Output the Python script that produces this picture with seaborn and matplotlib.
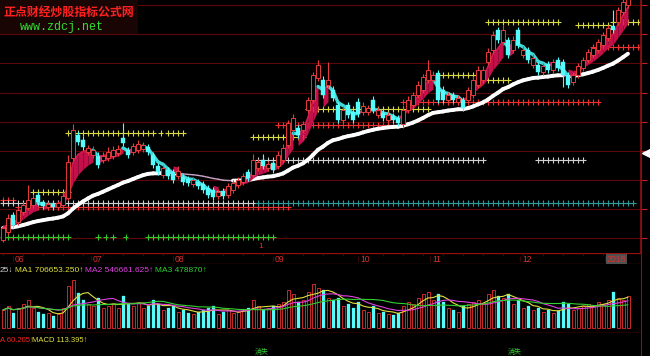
import numpy as np
import pandas as pd
import matplotlib
matplotlib.use("Agg")
import matplotlib.pyplot as plt
import seaborn as sns
from matplotlib.patches import Rectangle

# daily candles (price units, one per trading day)
opens = [1.0, 1.8, 3.5, 2.8, 3.8, 4.2, 4.5, 5.5, 4.8, 4.3,
         4.6, 4.3, 4.5, 5.2, 9.2, 11.5, 11.0, 9.8, 9.5, 9.4,
         9.0, 9.2, 9.4, 9.7, 11.2, 10.0, 9.8, 10.0, 10.1, 10.3,
         9.5, 8.4, 7.5, 8.0, 7.8, 7.4, 7.3, 7.1, 6.6, 6.8,
         6.6, 6.2, 6.0, 5.4, 5.9, 5.5, 6.0, 6.5, 6.8, 7.8,
         7.5, 8.2, 9.0, 8.2, 8.7, 8.4, 9.0, 10.5, 12.0, 12.2,
         12.0, 14.0, 15.0, 17.2, 17.0, 16.5, 16.0, 14.5, 13.0, 14.5,
         13.8, 14.8, 13.8, 13.8, 15.0, 13.5, 13.7, 13.0, 13.4, 13.2,
         12.6, 14.0, 14.5, 15.5, 16.0, 17.0, 17.0, 17.7, 16.0, 15.0,
         15.5, 14.8, 15.0, 15.0, 15.5, 16.5, 17.0, 18.8, 20.0, 22.0,
         20.8, 21.0, 20.0, 22.0, 19.5, 20.0, 18.5, 18.5, 17.8, 18.6,
         18.0, 19.0, 18.8, 17.5, 16.8, 17.5, 18.2, 19.0, 19.5, 20.0,
         20.5, 21.2, 22.4, 22.8, 23.8, 24.5]
closes = [2.2, 3.2, 2.5, 4.0, 4.5, 5.0, 5.2, 4.8, 4.4, 4.6,
          4.3, 4.7, 5.4, 8.8, 12.0, 10.8, 10.3, 10.2, 10.0, 8.5,
          9.4, 9.8, 10.0, 10.1, 10.7, 9.5, 10.4, 10.6, 10.5, 9.8,
          8.5, 7.8, 8.2, 7.4, 7.0, 7.9, 6.8, 6.7, 7.0, 6.4,
          6.0, 5.5, 5.3, 5.8, 5.4, 6.4, 6.7, 7.0, 7.4, 7.2,
          9.0, 8.8, 8.4, 8.6, 8.0, 9.5, 10.2, 12.7, 13.2, 11.5,
          12.6, 15.0, 17.5, 18.5, 15.5, 17.0, 15.2, 13.0, 14.0, 13.5,
          13.0, 13.6, 14.4, 14.2, 14.0, 14.0, 13.2, 13.5, 13.0, 12.7,
          14.0, 15.0, 15.5, 16.5, 17.3, 18.0, 17.5, 15.0, 15.0, 15.5,
          15.0, 15.2, 14.2, 16.0, 17.0, 18.0, 18.0, 19.8, 21.5, 21.0,
          22.0, 19.5, 21.0, 20.5, 20.0, 19.0, 19.2, 17.8, 18.4, 18.0,
          18.8, 18.2, 17.5, 16.5, 17.5, 18.4, 19.0, 19.8, 20.2, 20.8,
          21.5, 22.2, 22.0, 24.0, 24.8, 25.5]
highs = [2.5, 3.6, 3.8, 4.3, 4.8, 6.5, 5.5, 5.8, 5.0, 4.8,
         4.9, 4.9, 5.8, 9.5, 12.6, 11.9, 11.4, 10.5, 10.4, 9.8,
         9.8, 10.3, 10.4, 10.5, 12.7, 10.3, 10.7, 11.0, 10.8, 10.6,
         9.8, 8.7, 8.5, 8.3, 8.1, 8.4, 7.6, 7.4, 7.3, 7.1,
         6.9, 6.5, 6.3, 6.1, 6.2, 6.7, 7.0, 7.3, 7.7, 8.1,
         9.6, 9.1, 9.6, 8.9, 9.0, 9.9, 10.6, 13.0, 13.6, 12.5,
         12.9, 15.3, 17.8, 19.0, 17.4, 18.8, 16.4, 14.8, 14.4, 14.8,
         14.1, 15.2, 14.8, 14.5, 15.4, 14.3, 14.0, 13.8, 13.7, 13.5,
         14.3, 15.4, 15.8, 16.9, 17.6, 19.0, 17.9, 18.0, 16.4, 15.8,
         15.8, 15.5, 15.3, 16.3, 17.4, 18.4, 18.4, 20.2, 21.9, 22.3,
         22.5, 21.3, 21.4, 22.3, 20.4, 20.3, 19.6, 18.8, 18.7, 18.9,
         19.1, 19.3, 19.1, 17.8, 17.8, 18.7, 19.3, 20.1, 20.5, 21.1,
         21.8, 22.5, 24.0, 24.3, 25.2, 26.0]
lows = [0.8, 1.5, 2.2, 2.5, 3.5, 4.0, 4.2, 4.5, 4.1, 4.0,
        4.0, 4.0, 4.2, 5.0, 8.9, 10.5, 10.0, 9.5, 9.2, 8.2,
        8.7, 8.9, 9.1, 9.4, 10.4, 9.2, 9.5, 9.7, 9.8, 9.5,
        8.2, 7.5, 7.2, 7.1, 6.7, 7.1, 6.5, 6.4, 6.3, 6.1,
        5.7, 5.2, 5.0, 5.1, 5.1, 5.2, 5.7, 6.2, 6.5, 6.9,
        7.2, 7.9, 8.1, 7.9, 7.7, 8.1, 8.7, 10.2, 11.7, 11.2,
        11.7, 13.7, 14.7, 16.9, 15.2, 16.2, 14.9, 12.7, 12.7, 13.2,
        12.7, 13.3, 13.5, 13.5, 13.7, 13.2, 12.9, 12.7, 12.7, 12.4,
        12.3, 13.7, 14.2, 15.2, 15.7, 16.7, 16.7, 14.7, 14.7, 14.7,
        14.7, 14.5, 13.9, 14.7, 15.2, 16.2, 16.7, 18.5, 19.7, 20.7,
        20.5, 19.2, 19.7, 20.2, 19.2, 18.7, 18.2, 17.5, 17.5, 17.7,
        17.7, 17.9, 16.3, 16.2, 16.5, 17.2, 17.9, 18.7, 19.2, 19.7,
        20.2, 20.9, 21.7, 22.5, 23.5, 24.2]
# volume in 10k lots
volumes = [36, 44, 30, 40, 48, 56, 40, 32, 28, 30,
           24, 28, 40, 84, 96, 70, 56, 48, 44, 60,
           40, 44, 50, 40, 64, 48, 44, 52, 40, 44,
           56, 48, 36, 40, 44, 32, 36, 30, 28, 32,
           36, 40, 44, 28, 32, 36, 30, 32, 36, 40,
           56, 44, 36, 40, 44, 48, 52, 76, 68, 52,
           56, 72, 88, 80, 76, 60, 56, 60, 44, 48,
           40, 52, 36, 32, 44, 30, 32, 28, 26, 30,
           44, 52, 48, 60, 68, 72, 56, 68, 52, 40,
           36, 32, 44, 48, 52, 56, 48, 68, 76, 64,
           60, 68, 48, 56, 40, 44, 36, 40, 32, 36,
           30, 34, 52, 48, 36, 40, 44, 48, 44, 52,
           48, 56, 72, 60, 56, 64]

month_labels = ["06", "07", "08", "09", "10", "11", "12", "2018"]
month_pos = [2.4, 18.0, 34.4, 54.4, 71.4, 85.8, 103.8, 120.8]
grid_levels = [24.5, 21.6, 18.7, 15.7, 12.8, 9.9, 7.0, 4.1, 1.2]

# support / resistance "+" lines: (first day, last day, price, colour)
level_segments = [
    (13, 30, 11.7, "yellow"), (6, 13, 5.8, "yellow"), (50, 60, 11.3, "yellow"),
    (61, 85, 14.1, "yellow"), (85, 95, 17.5, "yellow"), (95, 101, 17.0, "yellow"),
    (97, 111, 22.8, "yellow"), (115, 121, 22.5, "yellow"), (122, 127, 22.8, "yellow"),
    (0, 2, 5.0, "red"), (3, 57, 4.3, "red"), (55, 80, 12.5, "red"),
    (80, 119, 14.8, "red"), (118, 127, 20.3, "red"),
    (0, 50, 4.7, "white"), (51, 96, 9.0, "white"), (107, 116, 9.0, "white"),
    (51, 126, 4.7, "teal"),
    (0, 13, 1.3, "green"), (29, 54, 1.3, "green"),
]
green_extra = [19, 20.5, 22, 24.5]
yellow_extra = [31.5, 33, 34, 35, 36]

level_palette = {"yellow": "#d8d840", "red": "#f03030", "white": "#d0d0d0",
                 "teal": "#2a9c9c", "green": "#30c830"}
UP = "#e83a3a"
DOWN = "#54fcfc"

sns.set_theme(style="dark", rc={"axes.facecolor": "black", "figure.facecolor": "black",
                                "axes.edgecolor": "black", "axes.grid": False})
plt.rcParams['font.family'] = ['Liberation Sans', 'Noto Sans CJK SC', 'DejaVu Sans']

df = pd.DataFrame({"open": opens, "close": closes, "high": highs, "low": lows, "vol": volumes})
df["idx"] = np.arange(len(df))
df["up"] = df["close"] >= df["open"]
fast = df["close"].ewm(span=4, adjust=False).mean().values
slow = df["close"].ewm(span=9, adjust=False).mean().values
long_ma = df["close"].ewm(span=34, adjust=False).mean().values
xs = df["idx"].values

fig = plt.figure(figsize=(6.5, 3.56), dpi=100)
ax = fig.add_axes([0, 103 / 356, 641 / 650, 253 / 356])
ax_d = fig.add_axes([0, 92 / 356, 641 / 650, 11 / 356])
ax_v = fig.add_axes([0, 23 / 356, 641 / 650, 57 / 356])
for a in (ax, ax_d, ax_v):
    a.set_facecolor("black")
    a.set_xlim(-0.6, 127.6)
    for s in a.spines.values():
        s.set_visible(False)
    a.set_xticks([])

# main price panel
ax.set_ylim(-0.3, 25.0)
for lvl in grid_levels:
    ax.axhline(lvl, color="#5c0808", lw=0.8, zorder=0)

rows = []
for start, end, level, colour in level_segments:
    for k in np.arange(start, end + 1):
        rows.append((k, level, colour))
rows += [(k, 1.3, "green") for k in green_extra]
rows += [(k, 11.7, "yellow") for k in yellow_extra]
levels_df = pd.DataFrame(rows, columns=["x", "y", "colour"])
sns.scatterplot(data=levels_df, x="x", y="y", hue="colour", palette=level_palette,
                marker="+", s=13, linewidth=0.8, legend=False, ax=ax, zorder=2)

# long average: white while rising, lilac while falling
for i in range(len(xs) - 1):
    rising = long_ma[i + 1] >= long_ma[i]
    ax.plot(xs[i:i + 2], long_ma[i:i + 2], color="white" if rising else "#c8a2c8",
            lw=2.8 if rising else 1.0, solid_capstyle="round", zorder=3)

# short trend band: crimson ribbon while rising, cyan line while falling
for i in range(len(xs) - 1):
    if fast[i + 1] >= fast[i]:
        ax.fill_between(xs[i:i + 2], fast[i:i + 2], slow[i:i + 2], color="#c4104a",
                        lw=0, zorder=3)
        ax.plot(xs[i:i + 2], fast[i:i + 2], color="#d0184e", lw=1.4, zorder=3)
    else:
        ax.plot(xs[i:i + 2], fast[i:i + 2], color="#40d8d8", lw=2.4,
                solid_capstyle="round", zorder=3)

colors = np.where(df["up"], UP, DOWN)
ax.vlines(xs, df["low"], df["high"], colors=colors, lw=0.8, zorder=4)
body = (df["close"] - df["open"]).abs().clip(lower=0.15)
bottom = df[["open", "close"]].min(axis=1)
ax.bar(xs[df["up"]], body[df["up"]], bottom=bottom[df["up"]], width=0.62,
       color="black", edgecolor=UP, linewidth=0.7, zorder=5)
ax.bar(xs[~df["up"]], body[~df["up"]], bottom=bottom[~df["up"]], width=0.62,
       color=DOWN, edgecolor=DOWN, linewidth=0.3, zorder=5)

ax.yaxis.set_ticks_position("right")
ax.set_yticks(grid_levels)
ax.set_yticklabels([])
ax.tick_params(axis="y", colors="#c02020", length=4, width=0.8, direction="out", right=True)
ax.spines["right"].set_visible(True)
ax.spines["right"].set_color("#8a1010")
ax.plot(128.6, 9.7, marker="<", color="white", ms=6, clip_on=False, zorder=6)
ax.set_xlabel("")
ax.set_ylabel("")

ax.add_patch(Rectangle((0, 1 - 34 / 253), 138 / 641, 34 / 253, transform=ax.transAxes,
                       facecolor="#1a0505", edgecolor="none", zorder=8))
fig.text(3 / 650, 1 - 12 / 356, "正点财经炒股指标公式网", color="#ff2020", fontsize=8.6,
         fontweight="bold", family=["Noto Sans CJK SC"], va="center", zorder=9)
fig.text(20 / 650, 1 - 27 / 356, "www.zdcj.net", color="#30e030", fontsize=8.4,
         family=["Liberation Mono", "DejaVu Sans Mono"], va="center", zorder=9)

# date strip
ax_d.set_ylim(0, 1)
ax_d.set_yticks([])
ax_d.axhline(0.97, color="#9a1010", lw=0.9)
ax_d.axhline(0.03, color="#9a1010", lw=0.9)
for k in np.arange(0, 128, 4):
    ax_d.plot([k, k], [0.97, 0.78], color="#5a0c0c", lw=0.6)
for lab, pos in zip(month_labels, month_pos):
    box = dict(facecolor="#505050", edgecolor="none", pad=0.6) if lab == "2018" else None
    ax_d.plot([pos - 0.4, pos - 0.4], [0.25, 0.75], color="#4a0808", lw=0.6)
    ax_d.text(pos, 0.45, lab, color="#d83030", fontsize=6.2, va="center", ha="left", bbox=box)
fig.text(258 / 650, 1 - 246 / 356, "1", color="#ff2020", fontsize=6, va="center")

# indicator header line
y_hdr = 1 - 270 / 356
fig.text(0, y_hdr, "25↓", color="#d0d0d0", fontsize=6, va="center")
fig.text(15 / 650, y_hdr, "MA1 706653.250↑", color="#e0e040", fontsize=6, va="center")
fig.text(85 / 650, y_hdr, "MA2 546661.625↑", color="#e040e0", fontsize=6, va="center")
fig.text(155 / 650, y_hdr, "MA3 478870↑", color="#30d030", fontsize=6, va="center")

# volume panel
ax_v.set_ylim(-10, 104)
ax_v.set_yticks([])
ax_v.axhline(-9, color="#b01010", lw=1.0)
ax_v.bar(xs[df["up"]], df["vol"][df["up"]], width=0.6, color="black",
         edgecolor="#e83030", linewidth=0.6)
ax_v.bar(xs[~df["up"]], df["vol"][~df["up"]], width=0.6, color=DOWN, edgecolor=DOWN,
         linewidth=0.2)
vol_df = pd.DataFrame({"idx": xs,
                       "ma5": df["vol"].rolling(5, min_periods=1).mean(),
                       "ma10": df["vol"].rolling(10, min_periods=1).mean(),
                       "ma20": df["vol"].rolling(20, min_periods=1).mean()})
sns.lineplot(data=vol_df, x="idx", y="ma5", color="#e0e040", lw=0.8, ax=ax_v)
sns.lineplot(data=vol_df, x="idx", y="ma10", color="#e040e0", lw=0.8, ax=ax_v)
sns.lineplot(data=vol_df, x="idx", y="ma20", color="#30d030", lw=0.8, ax=ax_v)
ax_v.set_xlabel("")
ax_v.set_ylabel("")

# MACD header
y_m = 1 - 340 / 356
fig.text(0, y_m, "A 60.205↑", color="#ff2020", fontsize=5.5, va="center")
fig.text(32 / 650, y_m, "MACD 113.395↑", color="#e0e040", fontsize=5.5, va="center")
fig.text(255 / 650, 1 - 352 / 356, "消失", color="#30d030", fontsize=5,
         family=["Noto Sans CJK SC"], va="center")
fig.text(508 / 650, 1 - 352 / 356, "消失", color="#30d030", fontsize=5,
         family=["Noto Sans CJK SC"], va="center")
fig.add_artist(plt.Line2D([641 / 650, 641 / 650], [0, 1], color="#8a1010", lw=0.8))

fig.savefig("out.png", dpi=100, facecolor="black")
